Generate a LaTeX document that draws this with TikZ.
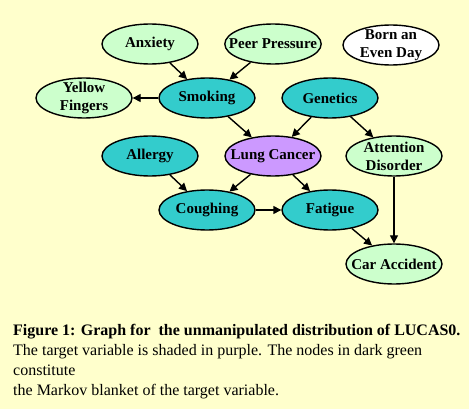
\documentclass[tikz,border=0pt]{standalone}
\usepackage{fontspec}
\setmainfont{Liberation Serif}
\usetikzlibrary{arrows.meta,shapes.geometric}
\definecolor{paper}{HTML}{FFFFCC}
\definecolor{lightgreen}{HTML}{CCFFCC}
\definecolor{darkgreen}{HTML}{33CCCC}
\definecolor{target}{HTML}{CC99FF}
\begin{document}
\begin{tikzpicture}
  [x=1pt,y=-1pt,
   var/.style={ellipse,
               draw=black,
               line width=1.4pt,
               minimum width=96pt,
               minimum height=40pt,
               inner xsep=-10pt,
               inner ysep=-3pt,
               align=center,
               font=\fontsize{15}{18}\selectfont\bfseries},
   outer/.style={var,fill=lightgreen},
   blanket/.style={var,fill=darkgreen},
   goal/.style={var,fill=target},
   free/.style={var,fill=white},
   link/.style={-{Triangle[length=8pt,width=8pt]},line width=1.4pt}]
  \fill[paper] (0,0) rectangle (469,409);
  \useasboundingbox (0,0) rectangle (469,409);
  % nodes
  \node[outer]   (anx)   at (150,44)  {Anxiety};
  \node[outer]   (peer)  at (273,44)  {Peer Pressure};
  \node[free]    (born)  at (391,45)  {Born an\\Even Day};
  \node[outer]   (yel)   at (84,98)   {Yellow\\Fingers};
  \node[blanket] (smk)   at (207,98)  {Smoking};
  \node[blanket] (gen)   at (330,98)  {Genetics};
  \node[blanket] (all)   at (150,156) {Allergy};
  \node[goal]    (lung)  at (273,156) {Lung Cancer};
  \node[outer]   (att)   at (394,156) {Attention\\Disorder};
  \node[blanket] (cough) at (207,210) {Coughing};
  \node[blanket] (fat)   at (330,210) {Fatigue};
  \node[outer]   (car)   at (394,264) {Car Accident};
  % edges
  \draw[link] (anx) -- (smk);
  \draw[link] (peer) -- (smk);
  \draw[link] (smk) -- (yel);
  \draw[link] (smk) -- (lung);
  \draw[link] (gen) -- (lung);
  \draw[link] (gen) -- (att);
  \draw[link] (all) -- (cough);
  \draw[link] (lung) -- (cough);
  \draw[link] (lung) -- (fat);
  \draw[link] (cough) -- (fat);
  \draw[link] (fat) -- (car);
  \draw[link] (att) -- (car);
  % caption
  \node[anchor=north west,inner sep=0pt,align=left,
        font=\fontsize{16}{20}\selectfont] (cap) at (13,324)
    {\textbf{Figure 1: Graph for\ \ the unmanipulated distribution of LUCAS0.}\\
     The target variable is shaded in purple. The nodes in dark green\\
     constitute\\
     the Markov blanket of the target variable.};
\end{tikzpicture}
\end{document}
